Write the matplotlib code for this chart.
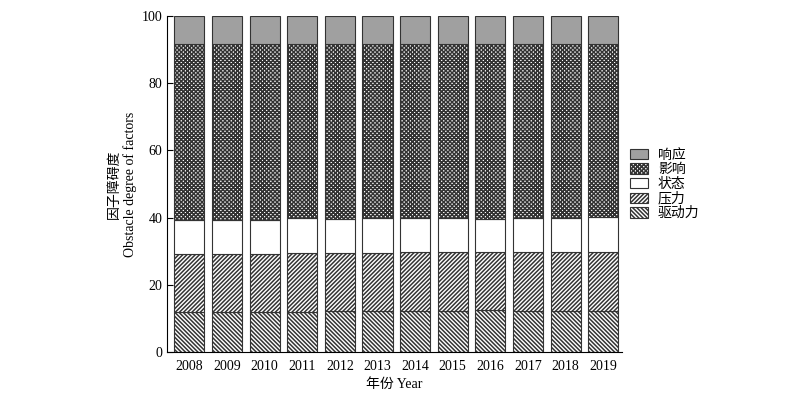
import matplotlib
matplotlib.use("Agg")
import numpy as np
import matplotlib.pyplot as plt

# --------------------------------------------------
# DATA
# --------------------------------------------------

years = ["2008", "2009", "2010", "2011", "2012", "2013",
         "2014", "2015", "2016", "2017", "2018", "2019"]

driving = [11.9, 11.8, 11.9, 12.0, 12.1, 12.2, 12.2, 12.3, 12.4, 12.3, 12.2, 12.2]
pressure = [17.3, 17.4, 17.4, 17.5, 17.5, 17.4, 17.5, 17.5, 17.4, 17.5, 17.6, 17.5]
state = [10.1, 10.2, 9.9, 10.3, 10.1, 10.2, 10.3, 10.1, 9.8, 10.1, 10.2, 10.5]
influence = [52.4, 52.3, 52.5, 51.9, 52.0, 51.9, 51.7, 51.8, 52.1, 51.8, 51.7, 51.5]
response = [8.3, 8.3, 8.3, 8.3, 8.3, 8.3, 8.3, 8.3, 8.3, 8.3, 8.3, 8.3]

labels = ["驱动力", "压力", "状态", "影响", "响应"]

# --------------------------------------------------
# PLOT
# --------------------------------------------------

plt.rcParams["font.family"] = ["Liberation Serif", "Noto Sans CJK SC"]
plt.rcParams["hatch.linewidth"] = 1.1

fig = plt.figure(figsize=(8, 4), dpi=100)
ax = fig.add_axes([0.209, 0.12, 0.5685, 0.84])

x = np.arange(len(years))
series = [driving, pressure, state, influence, response]
hatches = ["\\" * 8, "/" * 8, "", "x" * 8, ""]
faces = ["white", "white", "white", "white", "#a0a0a0"]

bottom = np.zeros(len(years))
handles = []
for vals, lab, h, fc in zip(series, labels, hatches, faces):
    bars = ax.bar(x, vals, width=0.8, bottom=bottom, color=fc,
                  edgecolor="#333333", linewidth=0.8, hatch=h, label=lab)
    handles.append(bars)
    bottom += np.array(vals)

ax.set_xlim(-0.59, 11.5)
ax.set_ylim(0, 100)
ax.set_xticks(x)
ax.set_xticklabels(years)
ax.set_yticks([0, 20, 40, 60, 80, 100])
ax.tick_params(axis="x", length=0, labelsize=10, pad=6)
ax.tick_params(axis="y", direction="in", length=4, labelsize=10)
ax.spines["top"].set_visible(False)
ax.spines["right"].set_visible(False)

ax.set_xlabel("年份 Year", fontsize=10, labelpad=3)
ax.set_ylabel("因子障碍度\nObstacle degree of factors", fontsize=10,
              linespacing=1.3, labelpad=3)

fig.legend(handles[::-1], labels[::-1], loc="upper left",
           bbox_to_anchor=(0.772, 0.66), frameon=False, fontsize=10,
           handlelength=1.3, handleheight=0.8, labelspacing=0.1,
           handletextpad=0.7)

fig.savefig("out.png", dpi=100)
plt.close(fig)
